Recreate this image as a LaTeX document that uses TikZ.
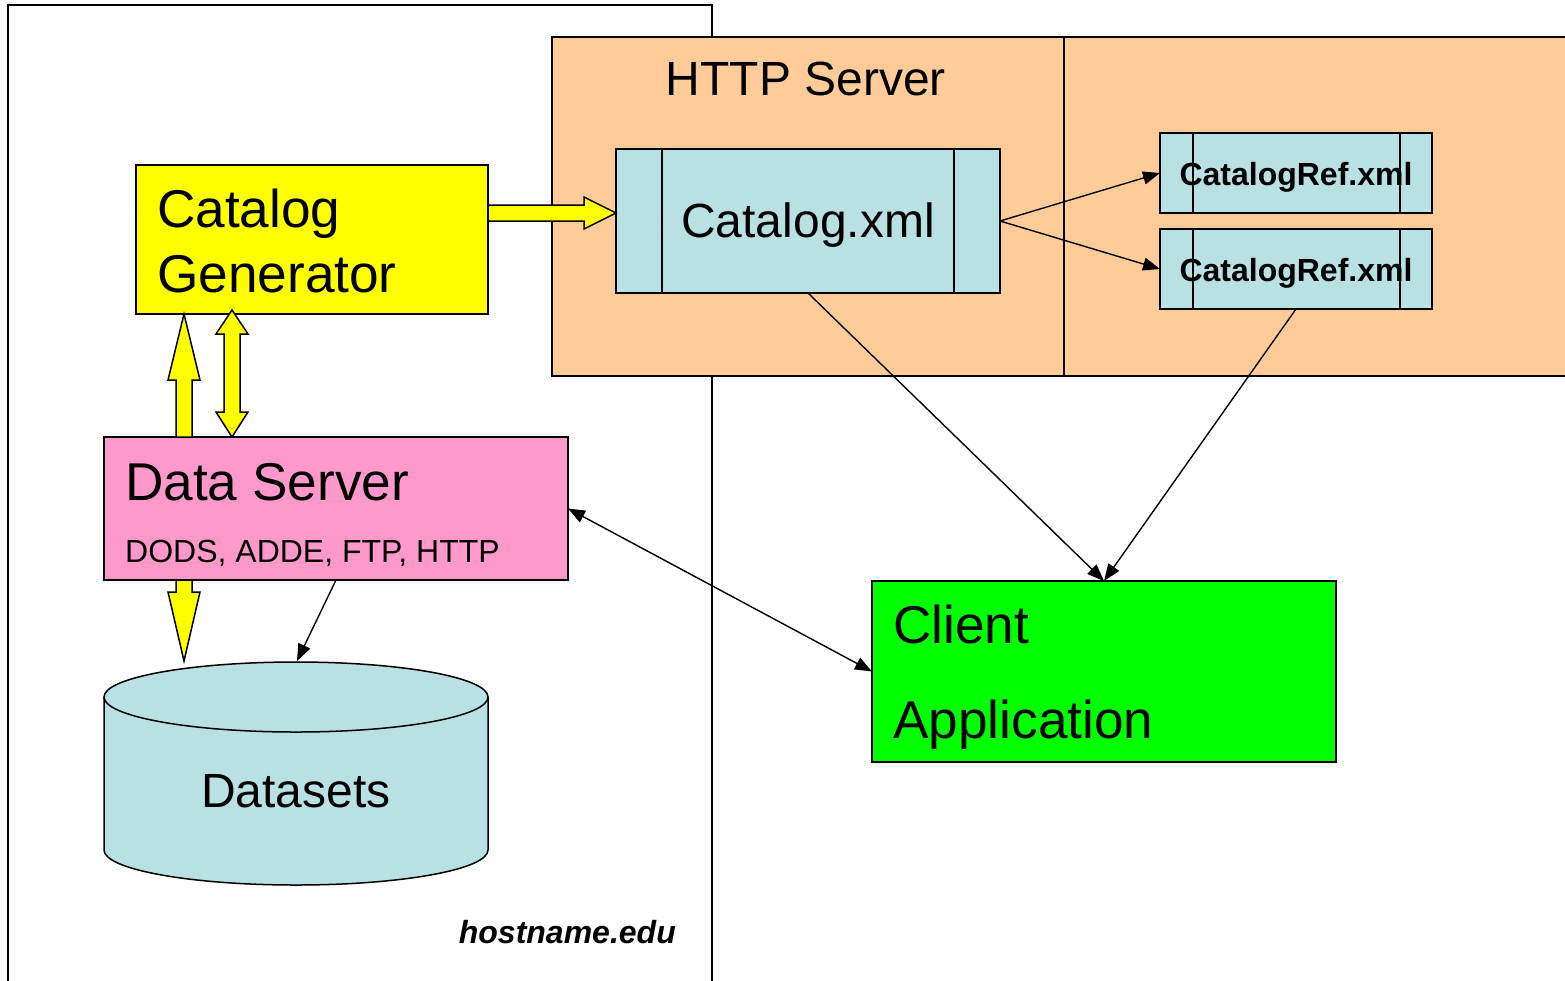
\documentclass[tikz,border=0pt]{standalone}
\usepackage{fontspec}
\setmainfont{Liberation Sans}
\usetikzlibrary{arrows.meta}
\definecolor{peach}{HTML}{FFCC99}
\definecolor{lblue}{HTML}{B9E0E3}
\definecolor{pinkc}{HTML}{FF99CC}
\definecolor{yel}{HTML}{FFFF00}
\definecolor{grn}{HTML}{00FF00}
\begin{document}
\begin{tikzpicture}[x=1pt,y=-1pt,
  boxn/.style={draw=black, line width=1.5pt, inner sep=0pt, outer sep=0pt},
  bigtxt/.style={inner sep=0pt, font=\fontsize{53.2}{63}\selectfont},
  midtxt/.style={inner sep=0pt, font=\fontsize{48}{58}\selectfont},
  smalltxt/.style={inner sep=0pt, font=\fontsize{32}{38}\selectfont},
  reftxt/.style={inner sep=0pt, font=\fontsize{32}{38}\selectfont\bfseries},
  arr/.style={line width=1.4pt, -{Triangle[length=17pt,width=13pt]}},
  arrtwo/.style={line width=1.4pt, {Triangle[length=17pt,width=13pt]}-{Triangle[length=17pt,width=13pt]}},
  blk/.style={draw=black, fill=yel, line width=1.5pt, line join=miter}
]
\useasboundingbox (0,0) rectangle (1565,980);
\fill[white] (0,0) rectangle (1565,980);

% outer host box
\draw[line width=1.5pt] (8,985) -- (8,5) -- (712,5) -- (712,985);

% HTTP server area
\filldraw[fill=peach, draw=black, line width=1.5pt] (1570,37) -- (552,37) -- (552,376) -- (1570,376);
\draw[line width=1.5pt] (1064,37) -- (1064,376);
\node[midtxt, anchor=base] (http) at (806,95) {HTTP Server};

% Catalog.xml
\node[boxn, fill=lblue, minimum width=384, minimum height=144] (cat) at (808,221) {};
\draw[line width=1.5pt] (662,149) -- (662,293) (954,149) -- (954,293);
\node[midtxt, anchor=base] (cattxt) at (808,237) {Catalog.xml};

% CatalogRef boxes
\node[boxn, fill=lblue, minimum width=272, minimum height=80] (ref1) at (1296,173) {};
\draw[line width=1.5pt] (1193,133) -- (1193,213) (1400,133) -- (1400,213);
\node[reftxt, anchor=base] (ref1txt) at (1296,185) {CatalogRef.xml};
\node[boxn, fill=lblue, minimum width=272, minimum height=80] (ref2) at (1296,269) {};
\draw[line width=1.5pt] (1193,229) -- (1193,309) (1400,229) -- (1400,309);
\node[reftxt, anchor=base] (ref2txt) at (1296,281) {CatalogRef.xml};

% Catalog Generator
\node[boxn, fill=yel, minimum width=352, minimum height=149] (gen) at (312,239.5) {};
\node[bigtxt, anchor=base west] (gen1) at (157,227) {Catalog};
\node[bigtxt, anchor=base west] (gen2) at (157,292) {Generator};

% Data Server
\node[boxn, fill=pinkc, minimum width=464, minimum height=143] (ds) at (336,508.5) {};
\node[bigtxt, anchor=base west] (ds1) at (125,500) {Data Server};
\node[smalltxt, anchor=base west] (ds2) at (125,562) {DODS, ADDE, FTP, HTTP};

% Client
\node[boxn, fill=grn, minimum width=464, minimum height=181] (client) at (1104,671.5) {};
\node[bigtxt, anchor=base west] (cl1) at (893,643) {Client};
\node[bigtxt, anchor=base west] (cl2) at (893,738) {Application};

% Datasets cylinder
\fill[lblue] (104,697) -- (104,850) arc[start angle=180, end angle=360, x radius=192pt, y radius=35pt] -- (488,697) -- cycle;
\draw[line width=1.5pt] (104,697) -- (104,850) arc[start angle=180, end angle=360, x radius=192pt, y radius=35pt] -- (488,697);
\filldraw[fill=lblue, draw=black, line width=1.5pt] (296,697) ellipse [x radius=192pt, y radius=35pt];
\coordinate (dstop) at (297,661);
\node[midtxt, anchor=base] (dstxt) at (296,807) {Datasets};

% hostname
\node[inner sep=0pt, font=\fontsize{32}{38}\selectfont\bfseries\itshape, anchor=base east] (host) at (676,943) {hostname.edu};

% block arrows
\draw[blk] (488,205) -- (584,205) -- (584,197) -- (616,213) -- (584,229) -- (584,221) -- (488,221) -- cycle;
\draw[blk] (176,437) -- (176,380) -- (168,380) -- (184,314) -- (200,380) -- (192,380) -- (192,437) -- cycle;
\draw[blk] (224,412) -- (216,412) -- (232,437) -- (248,412) -- (240,412) -- (240,334) -- (248,334) -- (232,310) -- (216,334) -- (224,334) -- cycle;
\draw[blk] (176,580) -- (176,592) -- (168,592) -- (184,661) -- (200,592) -- (192,592) -- (192,580) -- cycle;

% line connectors
\draw[arr] (cat.east) -- (ref1.west);
\draw[arr] (cat.east) -- (ref2.west);
\draw[arr] (cat.south) -- (client.north);
\draw[arr] (ref2.south) -- (client.north);
\draw[arrtwo] (ds.east) -- (client.west);
\draw[arr] (ds.south) -- (dstop);
\end{tikzpicture}
\end{document}
